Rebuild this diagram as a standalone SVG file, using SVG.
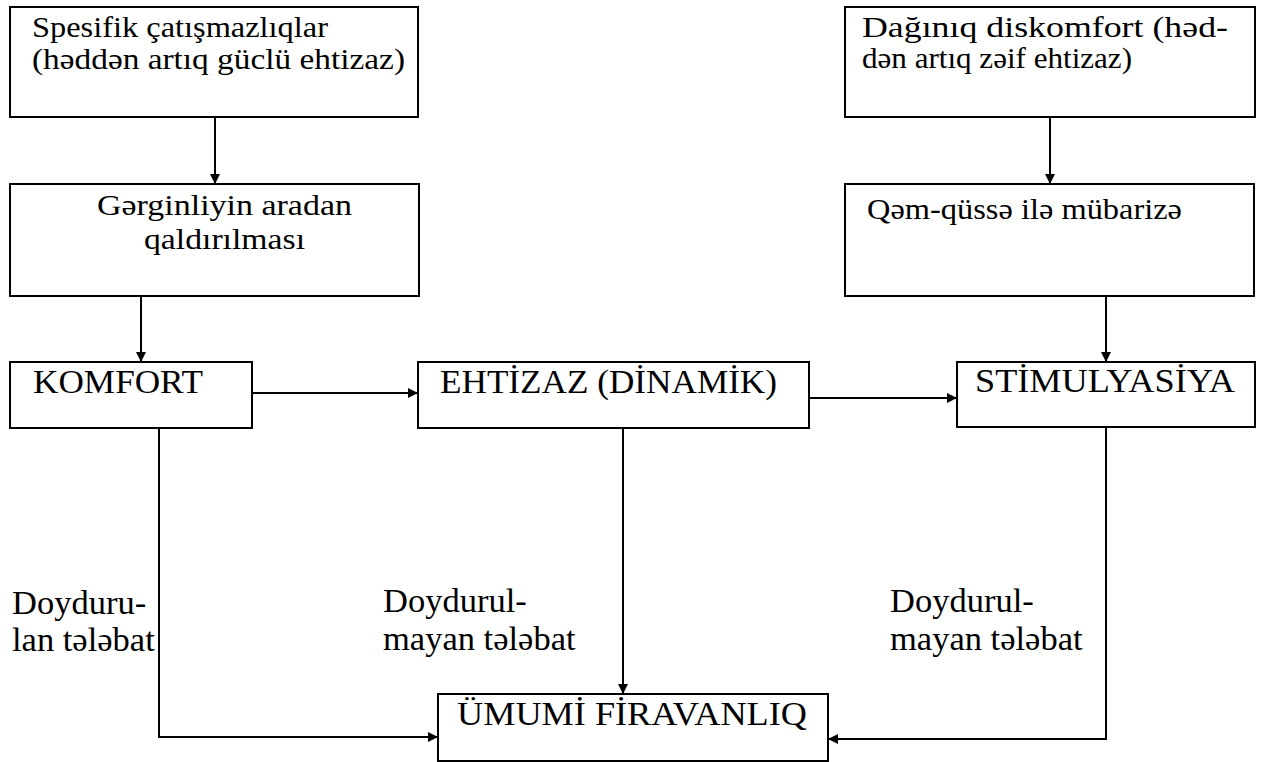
<svg xmlns="http://www.w3.org/2000/svg" width="1265" height="762" viewBox="0 0 1265 762">
<defs>
<style>
.box{fill:#fff;stroke:#000;stroke-width:2}
.t{font-family:"Liberation Serif","Times New Roman","DejaVu Serif",serif;font-size:34px;fill:#000}
.s{font-size:30px}
.l{font-size:34.5px}
.c{fill:none;stroke:#000;stroke-width:2}
</style>
<marker id="ah" viewBox="0 0 10 10" refX="10" refY="5" markerWidth="10" markerHeight="10" markerUnits="userSpaceOnUse" orient="auto">
<path d="M0,0 L10,5 L0,10 Z" fill="#000"/>
</marker>
</defs>
<rect width="1265" height="762" fill="#fff"/>
<g id="n1">
<rect class="box" x="10" y="7" width="408" height="110"/>
<text class="t s" x="32" y="37" textLength="296" lengthAdjust="spacingAndGlyphs">Spesifik çatışmazlıqlar</text>
<text class="t s" x="32" y="69" textLength="373" lengthAdjust="spacingAndGlyphs">(həddən artıq güclü ehtizaz)</text>
</g>
<g id="n2">
<rect class="box" x="10" y="184" width="409" height="112"/>
<text class="t s" x="97" y="215" textLength="255" lengthAdjust="spacingAndGlyphs">Gərginliyin aradan</text>
<text class="t s" x="144" y="249" textLength="161" lengthAdjust="spacingAndGlyphs">qaldırılması</text>
</g>
<g id="n3">
<rect class="box" x="845" y="7" width="410" height="110"/>
<text class="t s" x="862" y="37" textLength="366" lengthAdjust="spacingAndGlyphs">Dağınıq diskomfort (həd-</text>
<text class="t s" x="862" y="68" textLength="270" lengthAdjust="spacingAndGlyphs">dən artıq zəif ehtizaz)</text>
</g>
<g id="n4">
<rect class="box" x="845" y="184" width="409" height="112"/>
<text class="t s" x="867" y="219" textLength="315" lengthAdjust="spacingAndGlyphs">Qəm-qüssə ilə mübarizə</text>
</g>
<g id="n5">
<rect class="box" x="10" y="362" width="242" height="66"/>
<text class="t" x="33" y="393" textLength="170" lengthAdjust="spacingAndGlyphs">KOMFORT</text>
</g>
<g id="n6">
<rect class="box" x="418" y="362" width="391" height="66"/>
<text class="t" x="440" y="393" textLength="337" lengthAdjust="spacingAndGlyphs">EHTİZAZ (DİNAMİK)</text>
</g>
<g id="n7">
<rect class="box" x="957" y="362" width="298" height="65"/>
<text class="t" x="975" y="392" textLength="260" lengthAdjust="spacingAndGlyphs">STİMULYASİYA</text>
</g>
<g id="n8">
<rect class="box" x="438" y="694" width="390" height="67"/>
<text class="t" x="457" y="725" textLength="350" lengthAdjust="spacingAndGlyphs">ÜMUMİ FİRAVANLIQ</text>
</g>
<g id="labels">
<text class="t l" x="12" y="614">Doyduru-</text>
<text class="t l" x="12" y="651">lan tələbat</text>
<text class="t l" x="383" y="612">Doydurul-</text>
<text class="t l" x="383" y="650">mayan tələbat</text>
<text class="t l" x="890" y="612">Doydurul-</text>
<text class="t l" x="890" y="650">mayan tələbat</text>
</g>
<g id="connectors">
<path class="c" d="M215,117 V184" marker-end="url(#ah)"/>
<path class="c" d="M141,296 V362" marker-end="url(#ah)"/>
<path class="c" d="M1050,117 V184" marker-end="url(#ah)"/>
<path class="c" d="M1106,296 V362" marker-end="url(#ah)"/>
<path class="c" d="M252,393 H418" marker-end="url(#ah)"/>
<path class="c" d="M809,398 H957" marker-end="url(#ah)"/>
<path class="c" d="M623,428 V694" marker-end="url(#ah)"/>
<path class="c" d="M159,428 V737 H438" marker-end="url(#ah)"/>
<path class="c" d="M1106,427 V739 H828" marker-end="url(#ah)"/>
</g>
</svg>
